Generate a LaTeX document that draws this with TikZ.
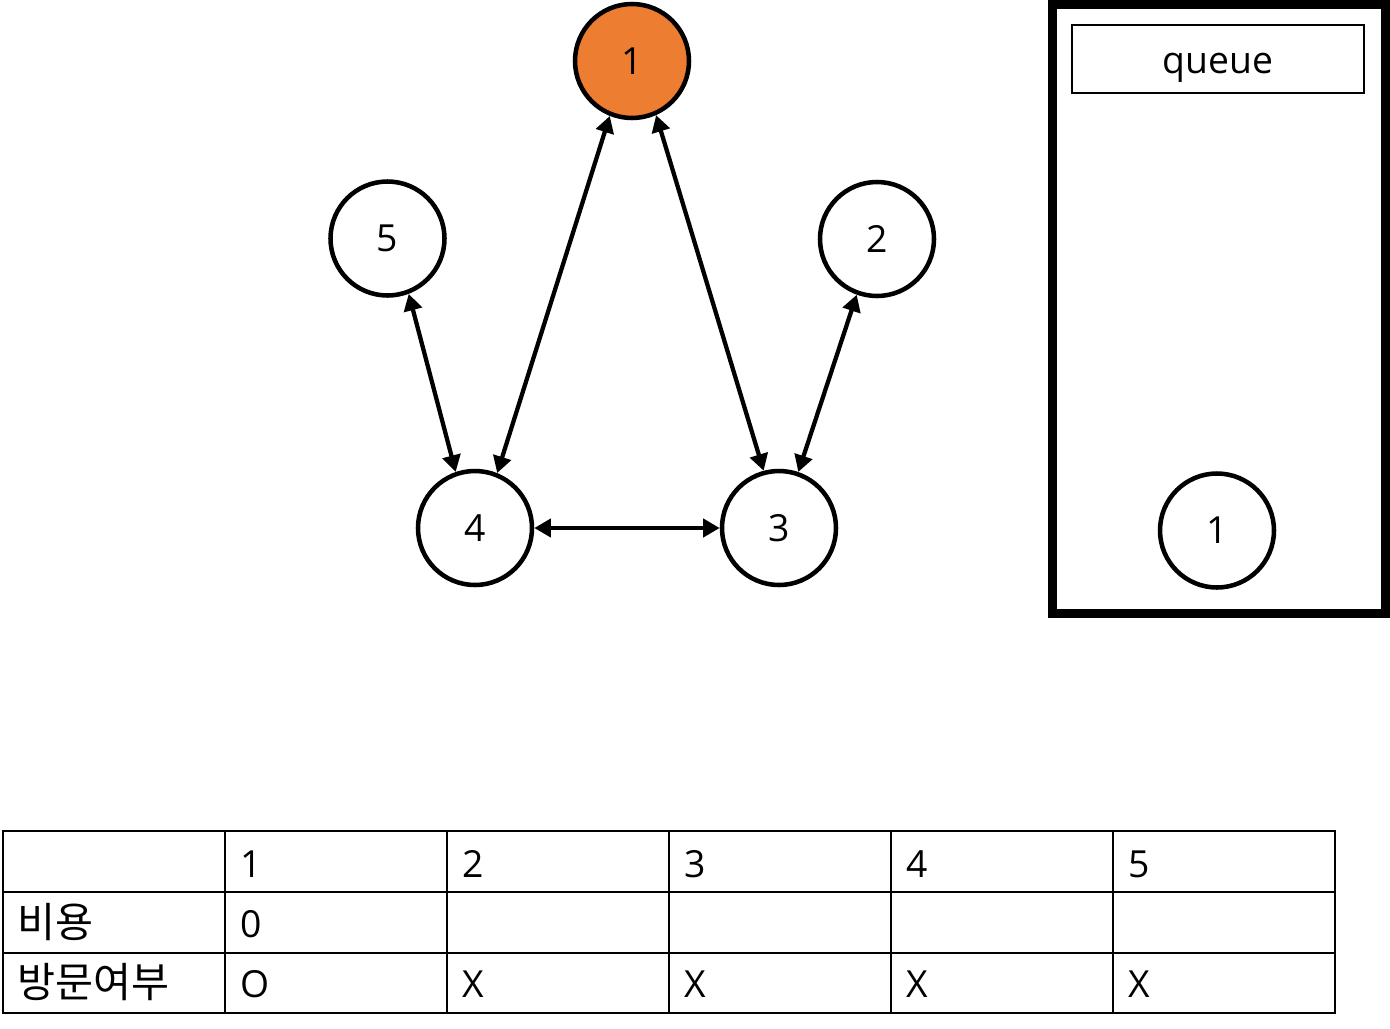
\documentclass[tikz,border=0pt]{standalone}
\usepackage{fontspec}
\setmainfont{Open Sans}
\newfontfamily\krfont{Noto Sans CJK KR}
\usetikzlibrary{arrows.meta}
\definecolor{nodeorange}{HTML}{ED7D31}
\begin{document}
\begin{tikzpicture}[x=0.75pt,y=-0.75pt,
  vertex/.style={circle,draw=black,line width=3.4pt,minimum size=85.5pt,inner sep=0pt,
    font=\fontsize{28}{33}\selectfont},
  link/.style={line width=3.2pt,{Triangle[length=12.5pt,width=13.5pt]}-{Triangle[length=12.5pt,width=13.5pt]}},
  grid/.style={line width=1.5pt},
  cell/.style={anchor=base west,inner sep=0pt,font=\fontsize{28}{33}\selectfont},
  krcell/.style={cell,font=\fontsize{31}{36}\krfont}]
\useasboundingbox (0,0) rectangle (1390,1029);
% graph
\node[vertex,fill=nodeorange] (n1) at (632,61) {1};
\node[vertex] (n5) at (387.5,238.5) {5};
\node[vertex] (n2) at (877,239) {2};
\node[vertex] (n4) at (475,528) {4};
\node[vertex] (n3) at (779,528) {3};
\draw[link] (n1.248.6) -- (n4.68.4);
\draw[link] (n1.294.1) -- (n3.105.4);
\draw[link] (n5.291.7) -- (n4.109);
\draw[link] (n2.250.3) -- (n3.71);
\draw[link] (n4.east) -- (n3.west);
% queue
\draw[line width=6.75pt] (1052,4.5) rectangle (1385,613.5);
\node[draw,line width=1.5pt,minimum width=219pt,minimum height=51pt,inner sep=0pt,
  text height=21pt,text depth=0pt,font=\fontsize{28}{33}\selectfont] (qlabel) at (1218,59) {queue};
\node[vertex] (q1) at (1217,530.5) {1};
% table
\draw[grid] (3,831) rectangle (1335,1013);
\draw[grid] (3,892) -- (1335,892);
\draw[grid] (3,953) -- (1335,953);
\foreach \cx in {225,447,669,891,1113} {\draw[grid] (\cx,831) -- (\cx,1013);}
\node[cell] (h1) at (240,877) {1};
\node[cell] (h2) at (462,877) {2};
\node[cell] (h3) at (684,877) {3};
\node[cell] (h4) at (906,877) {4};
\node[cell] (h5) at (1128,877) {5};
\node[krcell] (rcost) at (17,937) {비용};
\node[cell] (c1) at (240,937) {0};
\node[krcell] (rvis) at (17,997) {방문여부};
\node[cell] (v1) at (240,997) {O};
\node[cell] (v2) at (462,997) {X};
\node[cell] (v3) at (684,997) {X};
\node[cell] (v4) at (906,997) {X};
\node[cell] (v5) at (1128,997) {X};
\end{tikzpicture}
\end{document}
